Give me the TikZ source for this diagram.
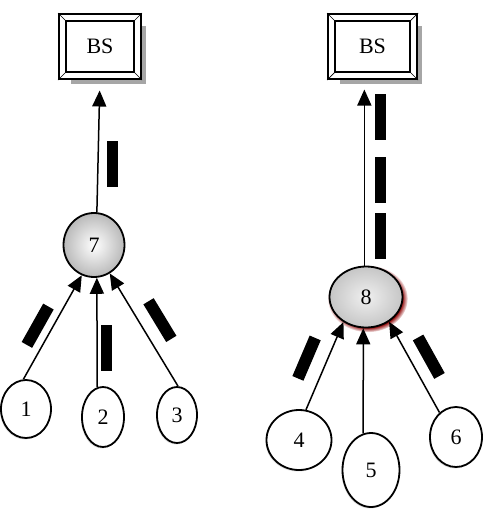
\documentclass[tikz,border=0pt]{standalone}
\usepackage{fontspec}
\setmainfont{Liberation Serif}
\usetikzlibrary{shapes.geometric, arrows.meta, positioning, shadows}

\begin{document}
\begin{tikzpicture}[x=1pt,y=-1pt,>={Triangle[length=16pt,width=14pt]},font=\fontsize{22}{26}\selectfont,
  bsbox/.style={draw,line width=2pt,double=white,double distance=5pt,outer sep=0pt,minimum height=58pt,fill=white,drop shadow={shadow xshift=8.5pt,shadow yshift=-8.5pt,fill=gray!70,opacity=1}},
  hub/.style={ellipse,draw,line width=1.8pt,inner sep=0pt,inner color=white,outer color=gray!55},
  sensor/.style={ellipse,draw,line width=1.8pt,inner sep=0pt,fill=white,drop shadow={shadow xshift=-1pt,shadow yshift=-1.5pt,opacity=.25}},
  link/.style={->,line width=1.5pt},
  pkt/.style={fill=black,minimum width=44pt,minimum height=12pt,inner sep=0pt,sloped},
  vpkt/.style={fill=black,minimum width=11pt,minimum height=46pt,inner sep=0pt}]
  \useasboundingbox (0,0) rectangle (485,509);
  \node[bsbox,minimum width=75pt] (bs1) at (100,46.5) {BS};
  \node[bsbox,minimum width=82pt] (bs2) at (372.5,46.5) {BS};
  \foreach \b in {bs1,bs2}
    \foreach \a/\ox/\oy/\ix/\iy in {north west/-4.5/-4.5/4.5/4.5,north east/4.5/-4.5/-4.5/4.5,south west/-4.5/4.5/4.5/-4.5,south east/4.5/4.5/-4.5/-4.5}
      \draw[line width=.7pt] ([shift={(\ox,\oy)}]\b.\a) -- ([shift={(\ix,\iy)}]\b.\a);
  \node[hub,minimum width=61pt,minimum height=64pt] (n7) at (94,245) {7};
  \node[hub,inner color=gray!12,outer color=gray!45,minimum width=73pt,minimum height=61pt,circular drop shadow={shadow xshift=1.5pt,shadow yshift=-1.5pt,fill=red!55!black,opacity=1}] (n8) at (366,297) {8};
  \node[sensor,minimum width=50pt,minimum height=58pt] (n1) at (26,409) {1};
  \node[sensor,minimum width=42pt,minimum height=60pt] (n2) at (103,417) {2};
  \node[sensor,minimum width=40pt,minimum height=56pt] (n3) at (177,415) {3};
  \node[sensor,minimum width=65pt,minimum height=60pt] (n4) at (299,440) {4};
  \node[sensor,minimum width=57pt,minimum height=74pt] (n5) at (371,470) {5};
  \node[sensor,minimum width=52pt,minimum height=60pt] (n6) at (456,437) {6};
  \draw[link] (n1.95) -- node[pkt,pos=.45,above=7pt] {} (n7.248);
  \draw[link] (n2.101) -- node[vpkt,pos=.36,right=3pt] {} (n7.275);
  \draw[link] (n3.88) -- node[pkt,pos=.5,above=12pt] {} (n7.299);
  \draw[link,shorten >=15pt] (n7.85) -- node[vpkt,pos=.35,right=8pt] {} (bs1.south);
  \draw[link] (n4.77) -- node[pkt,pos=.5,above=13pt] {} (n8.228);
  \draw[link] (n5.102) -- (n8.265);
  \draw[link] (n6.124) -- node[pkt,pos=.52,above=11pt] {} (n8.313);
  \draw[link,shorten >=14pt] (n8.93) -- node[vpkt,pos=.155,right=10pt] {} node[vpkt,pos=.45,right=10pt] {} node[vpkt,pos=.78,right=10pt] {} (bs2.south -| n8.93);
\end{tikzpicture}
\end{document}
